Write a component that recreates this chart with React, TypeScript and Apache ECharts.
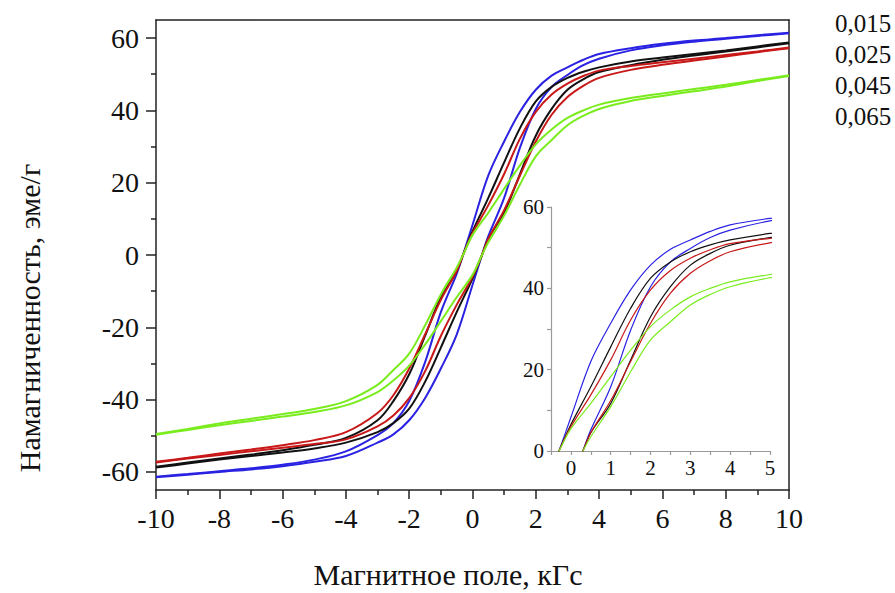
import React, { useEffect, useRef } from 'react';
import * as echarts from 'echarts';

// Magnetic field (kG) for the ascending (up) and descending (down) branches
const H_UP = [-10, -9, -8, -7, -6, -5, -4, -3, -2.5, -2, -1.5, -1, -0.5, 0, 0.3, 0.5, 1, 1.5, 2, 2.5, 3, 3.5, 4, 5, 6, 7, 8, 9, 10];
const H_DOWN = [10, 9, 8, 7, 6, 5, 4, 3.5, 3, 2.5, 2, 1.5, 1, 0.5, 0, -0.3, -0.5, -1, -1.5, -2, -2.5, -3, -4, -5, -6, -7, -8, -9, -10];

const NAMES = ['0,015', '0,025', '0,045', '0,065'];
const COLORS = ['#2a22e2', '#111111', '#c81818', '#7aec1e'];

// Magnetization (emu/g)
const M_UP_015 = [-61.5, -60.8, -60.0, -59.3, -58.4, -57.2, -55.6, -51.9, -49.6, -45.7, -39.6, -31.4, -22, -8.3, 0, 5.2, 15.8, 29.7, 40.4, 46.5, 49.8, 52.5, 54.3, 56.6, 58.0, 59.0, 59.8, 60.6, 61.3];
const M_DOWN_015 = [61.5, 60.8, 60.0, 59.3, 58.4, 57.2, 55.6, 54.0, 51.9, 49.6, 45.7, 39.6, 31.4, 22, 8.3, 0, -5.2, -15.8, -29.7, -40.4, -46.5, -49.8, -54.3, -56.6, -58.0, -59.0, -59.8, -60.6, -61.3];
const M_UP_025 = [-58.8, -57.7, -56.6, -55.6, -54.6, -53.5, -51.9, -49, -46.5, -42.5, -35.1, -25.6, -15.8, -6.5, 0, 4.5, 11.7, 22.4, 33, 40.4, 45.7, 48.6, 50.6, 52.5, 54, 55.2, 56.3, 57.4, 58.6];
const M_DOWN_025 = [58.8, 57.7, 56.6, 55.6, 54.6, 53.5, 51.9, 50.7, 49, 46.5, 42.5, 35.1, 25.6, 15.8, 6.5, 0, -4.5, -11.7, -22.4, -33, -40.4, -45.7, -50.6, -52.5, -54, -55.2, -56.3, -57.4, -58.6];
const M_UP_045 = [-57.4, -56.3, -55.3, -54.3, -53.3, -52.3, -51, -47.4, -44.4, -39.6, -32.2, -22.4, -13.8, -6, 0, 4.5, 12.4, 22, 31.4, 38.8, 43.7, 46.8, 49, 51.2, 52.6, 53.8, 54.9, 56.1, 57.2];
const M_DOWN_045 = [57.4, 56.3, 55.3, 54.3, 53.3, 52.3, 51, 49.5, 47.4, 44.4, 39.6, 32.2, 22.4, 13.8, 6, 0, -4.5, -12.4, -22, -31.4, -38.8, -43.7, -49, -51.2, -52.6, -53.8, -54.9, -56.1, -57.2];
const M_UP_065 = [-49.7, -48.4, -47.1, -45.9, -44.7, -43.4, -41.6, -37.9, -34.7, -30.6, -24.8, -18.3, -11.7, -5.5, 0, 3.5, 10.9, 19.5, 27.3, 31.8, 35.9, 38.5, 40.4, 42.6, 44.0, 45.3, 46.6, 48.1, 49.5];
const M_DOWN_065 = [49.7, 48.4, 47.1, 45.9, 44.7, 43.4, 41.6, 40.0, 37.9, 34.7, 30.6, 24.8, 18.3, 11.7, 5.5, 0, -3.5, -10.9, -19.5, -27.3, -31.8, -35.9, -40.4, -42.6, -44.0, -45.3, -46.6, -48.1, -49.5];

const UP = [M_UP_015, M_UP_025, M_UP_045, M_UP_065];
const DOWN = [M_DOWN_015, M_DOWN_025, M_DOWN_045, M_DOWN_065];

const MAIN_Y_LABELS = [-60, -40, -20, 0, 20, 40, 60];
const MAIN_Y_MINOR = [-50, -30, -10, 10, 30, 50];

const FONT = 'Liberation Serif';

export default function App() {
  const ref = useRef<HTMLDivElement>(null);
  useEffect(() => {
    const chart = echarts.init(ref.current!, null, { renderer: 'svg' });
    const series: any[] = [];
    NAMES.forEach((name, i) => {
      const up = H_UP.map((h, k) => [h, UP[i][k]]);
      const down = H_DOWN.map((h, k) => [h, DOWN[i][k]]);
      [up, down].forEach((d) => {
        series.push({
          name, type: 'line', xAxisIndex: 0, yAxisIndex: 0, data: d, smooth: 0.35,
          showSymbol: false, symbol: 'none', lineStyle: { color: COLORS[i], width: 2 }, itemStyle: { color: COLORS[i] },
        });
        series.push({
          name, type: 'line', xAxisIndex: 2, yAxisIndex: 3, data: d, smooth: 0.35, clip: true,
          showSymbol: false, symbol: 'none', lineStyle: { color: COLORS[i], width: 1.2 }, itemStyle: { color: COLORS[i] },
        });
      });
    });

    const axisDark = { color: '#222', width: 1.5 };
    const axisGray = { color: '#9a9a9a', width: 1.2 };

    chart.setOption({
      animation: false,
      backgroundColor: '#fff',
      textStyle: { fontFamily: FONT },
      grid: [
        { left: 156, top: 20, width: 633, height: 470 },
        { left: 551, top: 207, width: 219, height: 244 },
      ],
      legend: {
        data: NAMES, orient: 'vertical', left: 824, top: 6, itemWidth: 0, itemHeight: 0, itemGap: 6,
        selectedMode: false,
        textStyle: { fontFamily: FONT, fontSize: 25, color: '#111', lineHeight: 25 },
      },
      xAxis: [
        {
          gridIndex: 0, type: 'value', position: 'bottom', min: -10, max: 10, interval: 2,
          axisLine: { show: true, onZero: false, lineStyle: axisDark },
          axisTick: { show: true, length: 9, lineStyle: axisDark },
          minorTick: { show: true, splitNumber: 2, length: 5, lineStyle: axisDark },
          axisLabel: { fontFamily: FONT, fontSize: 28, color: '#111', margin: 14 },
          splitLine: { show: false }, minorSplitLine: { show: false },
        },
        {
          gridIndex: 0, type: 'value', position: 'top', min: -10, max: 10,
          axisLine: { show: true, onZero: false, lineStyle: axisDark },
          axisTick: { show: false }, axisLabel: { show: false }, splitLine: { show: false },
        },
        {
          gridIndex: 1, type: 'value', position: 'bottom', min: -0.5, max: 5, interval: 0.5,
          axisLine: { show: true, onZero: false, lineStyle: axisGray },
          axisTick: { show: true, length: 4, lineStyle: axisGray },
          axisLabel: {
            fontFamily: FONT, fontSize: 21, color: '#111', margin: 6,
            formatter: (v: number) => (Number.isInteger(v) ? String(v) : ''),
          },
          splitLine: { show: false },
        },
      ],
      yAxis: [
        {
          gridIndex: 0, type: 'value', position: 'left', min: -65, max: 65,
          axisLine: { show: true, onZero: false, lineStyle: axisDark },
          axisTick: { show: true, length: 10, lineStyle: axisDark, customValues: MAIN_Y_LABELS },
          axisLabel: { fontFamily: FONT, fontSize: 28, color: '#111', margin: 17, customValues: MAIN_Y_LABELS },
          splitLine: { show: false },
        },
        {
          gridIndex: 0, type: 'value', position: 'left', min: -65, max: 65,
          axisLine: { show: false, onZero: false },
          axisTick: { show: true, length: 5, lineStyle: axisDark, customValues: MAIN_Y_MINOR },
          axisLabel: { show: false }, splitLine: { show: false },
        },
        {
          gridIndex: 0, type: 'value', position: 'right', min: -65, max: 65,
          axisLine: { show: true, onZero: false, lineStyle: axisDark },
          axisTick: { show: false }, axisLabel: { show: false }, splitLine: { show: false },
        },
        {
          gridIndex: 1, type: 'value', position: 'left', min: 0, max: 60, interval: 10,
          axisLine: { show: true, onZero: false, lineStyle: axisGray },
          axisTick: { show: true, length: 4, lineStyle: axisGray },
          axisLabel: {
            fontFamily: FONT, fontSize: 21, color: '#111', margin: 7,
            formatter: (v: number) => (v % 20 === 0 ? String(v) : ''),
          },
          splitLine: { show: false },
        },
      ],
      graphic: [
        {
          type: 'text', x: 29, y: 318, rotation: Math.PI / 2,
          style: { text: 'Намагниченность, эме/г', fontFamily: FONT, fontSize: 30, fill: '#111', textAlign: 'center', textVerticalAlign: 'middle' },
        },
        {
          type: 'text', x: 448, y: 574,
          style: { text: 'Магнитное поле, кГс', fontFamily: FONT, fontSize: 30, fill: '#111', textAlign: 'center', textVerticalAlign: 'middle' },
        },
      ],
      series,
    });
    return () => chart.dispose();
  }, []);
  return <div ref={ref} style={{ position: 'fixed', left: 0, top: 0, width: 895, height: 593 }} />;
}
